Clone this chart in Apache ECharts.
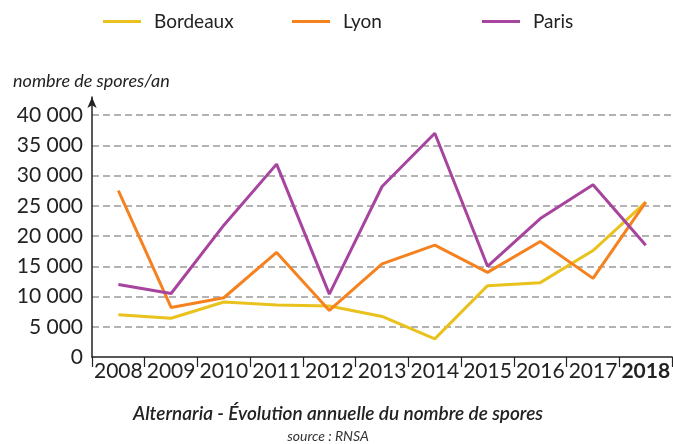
<!DOCTYPE html>
<html>
<head>
<meta charset="utf-8">
<script src="https://cdn.jsdelivr.net/npm/echarts@6/dist/echarts.min.js"></script>
<style>
  html, body { margin: 0; padding: 0; background: #ffffff; }
  #chart { width: 673px; height: 444px; }
</style>
</head>
<body>
<div id="chart"></div>
<script>
// Années et nombre annuel de spores d'Alternaria par ville
const years = ['2008', '2009', '2010', '2011', '2012', '2013', '2014', '2015', '2016', '2017', '2018'];
const bordeaux = [7000, 6400, 9100, 8600, 8450, 6700, 3000, 11800, 12300, 17600, 25600];
const lyon = [27500, 8200, 9800, 17300, 7700, 15400, 18500, 14000, 19100, 13000, 25600];
const paris = [12000, 10500, 21800, 31900, 10400, 28200, 37000, 15000, 22900, 28500, 18500];

const cityNames = ['Bordeaux', 'Lyon', 'Paris'];
const cityColors = ['#e9c21d', '#f6821f', '#a7459e'];

const FONT = 'Lato, "Open Sans", sans-serif';
const DARK = '#222222';

// space between thousands, as in "40 000"
function fmtThousands(v) {
  return String(v).replace(/\B(?=(\d{3})+(?!\d))/g, ' ');
}

const chart = echarts.init(document.getElementById('chart'), null, { renderer: 'canvas' });

const legendLefts = [98, 287, 477];
const legends = cityNames.map((name, i) => ({
  data: [name],
  left: legendLefts[i],
  top: 7,
  orient: 'horizontal',
  icon: 'rect',
  itemWidth: 38,
  itemHeight: 3,
  selectedMode: false,
  textStyle: {
    fontFamily: FONT,
    fontSize: 19,
    color: DARK,
    padding: [0, 0, 0, 8]
  }
}));

const seriesData = [bordeaux, lyon, paris];

chart.setOption({
  animation: false,
  backgroundColor: '#ffffff',
  color: cityColors,
  legend: legends,
  title: [
    {
      text: 'Alternaria - Évolution annuelle du nombre de spores',
      left: 333,
      top: 399,
      textAlign: 'center',
      textStyle: { fontFamily: FONT, fontSize: 19, fontStyle: 'italic', fontWeight: 600, color: DARK }
    },
    {
      text: 'source : RNSA',
      left: 323,
      top: 424,
      textAlign: 'center',
      textStyle: { fontFamily: FONT, fontSize: 14, fontStyle: 'italic', fontWeight: 'normal', color: '#333333' }
    },
    {
      text: 'nombre de spores/an',
      left: 8,
      top: 67,
      textStyle: { fontFamily: FONT, fontSize: 18, fontStyle: 'italic', fontWeight: 'normal', color: DARK }
    }
  ],
  grid: {
    left: 92,
    right: -2,
    top: 97,
    bottom: 87,
    containLabel: false
  },
  xAxis: {
    type: 'category',
    data: years,
    boundaryGap: true,
    axisLine: { lineStyle: { color: DARK, width: 1.5 } },
    axisTick: { show: true, length: 10, lineStyle: { color: DARK, width: 1.2 } },
    axisLabel: {
      fontFamily: FONT,
      fontSize: 21,
      color: DARK,
      margin: 4,
      interval: 0,
      formatter: (v) => v === '2018' ? '{b|' + v + '}' : v,
      rich: { b: { fontFamily: FONT, fontSize: 21, fontWeight: 'bold', color: DARK } }
    },
    splitLine: { show: false }
  },
  yAxis: {
    type: 'value',
    min: 0,
    max: 43000,
    interval: 5000,
    axisLine: {
      show: true,
      symbol: ['none', 'arrow'],
      symbolSize: [7, 11],
      lineStyle: { color: DARK, width: 1.5 }
    },
    axisTick: { show: false },
    axisLabel: {
      fontFamily: FONT,
      fontSize: 21,
      color: DARK,
      margin: 9,
      showMaxLabel: false,
      formatter: (v) => (v % 5000 === 0 ? fmtThousands(v) : '')
    },
    splitLine: {
      show: true,
      showMinLine: false,
      showMaxLine: false,
      lineStyle: { color: '#9a9a9a', type: [7, 4], width: 1.5 }
    }
  },
  series: cityNames.map((name, i) => ({
    name: name,
    type: 'line',
    data: seriesData[i],
    showSymbol: false,
    symbol: 'none',
    lineStyle: { width: 3, color: cityColors[i] },
    itemStyle: { color: cityColors[i] },
    z: 3 + i
  }))
});
</script>
</body>
</html>
